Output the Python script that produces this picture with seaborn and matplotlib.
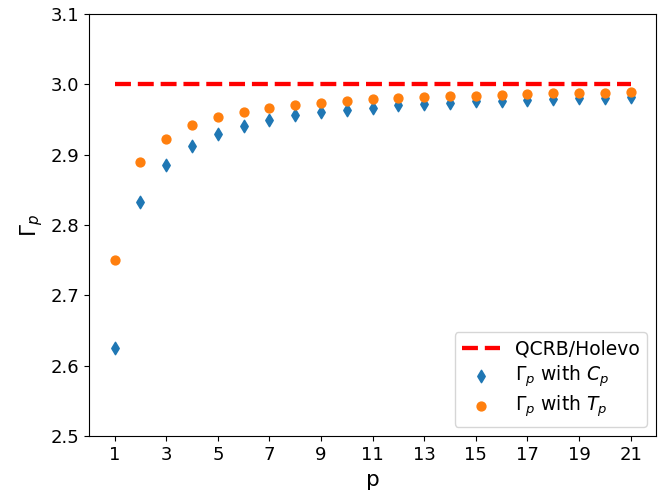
import matplotlib
matplotlib.use("Agg")
import matplotlib.pyplot as plt
import seaborn as sns
import pandas as pd

p_vals = list(range(1, 22))
qcrb = [3.0] * 21
gamma_C = [2.625, 2.833, 2.885, 2.913, 2.930, 2.941, 2.950, 2.956, 2.960, 2.964,
           2.967, 2.970, 2.972, 2.974, 2.976, 2.977, 2.978, 2.979, 2.980, 2.981, 2.982]
gamma_T = [2.750, 2.889, 2.923, 2.942, 2.953, 2.961, 2.967, 2.971, 2.974, 2.977,
           2.979, 2.981, 2.982, 2.983, 2.984, 2.985, 2.986, 2.987, 2.988, 2.988, 2.989]
xtick_vals = list(range(1, 22, 2))

df = pd.DataFrame({"p": p_vals, "qcrb": qcrb, "C": gamma_C, "T": gamma_T})

fig, ax = plt.subplots(figsize=(6.63, 4.98), dpi=100)
fig.subplots_adjust(left=0.134, right=0.99, top=0.972, bottom=0.124)

sns.lineplot(data=df, x="p", y="qcrb", ax=ax, color="red", linestyle="--",
             linewidth=3.1, label="QCRB/Holevo")
sns.scatterplot(data=df, x="p", y="C", ax=ax, marker="d", s=40, color="#1f77b4",
                edgecolor="#1f77b4", linewidth=1.05, label=r"$\Gamma_p$ with $C_p$", zorder=3)
sns.scatterplot(data=df, x="p", y="T", ax=ax, marker="o", s=40, color="#ff7f0e",
                edgecolor="#ff7f0e", linewidth=1.05, label=r"$\Gamma_p$ with $T_p$", zorder=3)

ax.set_xlim(0, 22)
ax.set_ylim(2.5, 3.1)
ax.set_xticks(xtick_vals)
ax.tick_params(labelsize=13)
ax.set_xlabel("p", fontsize=15.5)
ax.set_ylabel(r"$\Gamma_p$", fontsize=15.5)
ax.legend(loc="lower right", fontsize=13.5, labelspacing=0.25)

fig.savefig("out.png", dpi=100)
